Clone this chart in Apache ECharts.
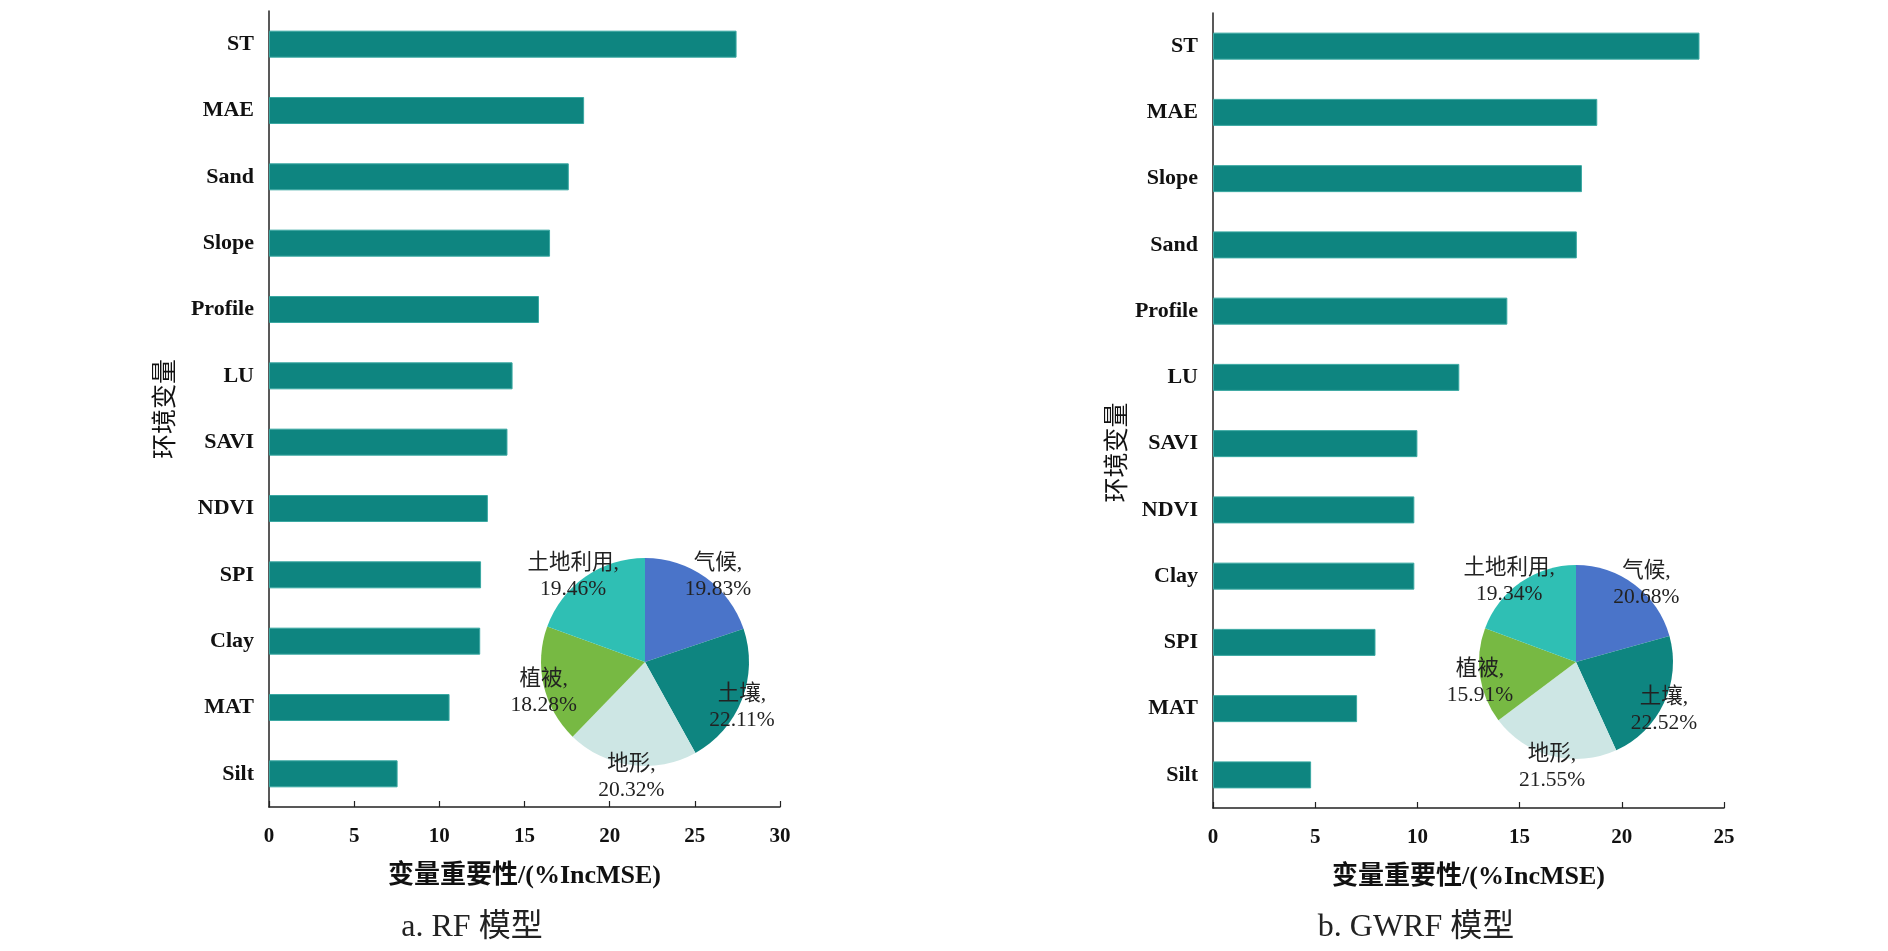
<!DOCTYPE html>
<html style="height: 100%">
<head>
    <meta charset="utf-8">
    <title>变量重要性</title>
    <script src="https://cdn.jsdelivr.net/npm/echarts@6/dist/echarts.min.js"></script>
</head>
<body style="height: 100%; margin: 0; background: #fff">
<div id="container" style="width: 1888px; height: 951px"></div>
<script type="text/javascript">
    // RF model
    const rfVars = ['ST', 'MAE', 'Sand', 'Slope', 'Profile', 'LU', 'SAVI', 'NDVI', 'SPI', 'Clay', 'MAT', 'Silt'];
    const rfValues = [27.45, 18.5, 17.6, 16.5, 15.85, 14.3, 14.0, 12.85, 12.45, 12.4, 10.6, 7.55];
    // GWRF model
    const gwrfVars = ['ST', 'MAE', 'Slope', 'Sand', 'Profile', 'LU', 'SAVI', 'NDVI', 'Clay', 'SPI', 'MAT', 'Silt'];
    const gwrfValues = [23.8, 18.8, 18.05, 17.8, 14.4, 12.05, 10.0, 9.85, 9.85, 7.95, 7.05, 4.8];

    // factor groups (pie)
    const groupNames = ['气候', '土壤', '地形', '植被', '土地利用'];
    const groupColors = ['#4a74c9', '#0e8580', '#cde6e4', '#77b943', '#2fbfb4'];
    const rfShares = [19.83, 22.11, 20.32, 18.28, 19.46];
    const gwrfShares = [20.68, 22.52, 21.55, 15.91, 19.34];

    const serif = "'Liberation Serif', 'Times New Roman', 'Noto Sans CJK SC', serif";
    const barColor = '#0e8580';

    let dom = document.getElementById('container');
    let chart = echarts.init(dom);

    function pieData(shares) {
        return shares.map(function (v, i) {
            return {name: groupNames[i], value: v, itemStyle: {color: groupColors[i]}};
        });
    }

    // put each label on the slice edge, along its bisector (upper ones pushed out a bit)
    function pieLabels(shares, cx, cy, r) {
        let total = shares.reduce(function (a, b) { return a + b; }, 0);
        return function (params) {
            let cum = 0;
            for (let i = 0; i < params.dataIndex; i++) cum += shares[i];
            let mid = (cum + shares[params.dataIndex] / 2) / total * Math.PI * 2;
            let s = Math.sin(mid), c = Math.cos(mid);
            return {
                x: cx + r * s * (1 + 0.25 * Math.max(0, c)),
                y: cy - r * c * 1.07 + 5,
                align: 'center',
                verticalAlign: 'middle'
            };
        };
    }

    function xAxisOf(gridIndex, max) {
        return {
            type: 'value', gridIndex: gridIndex, min: 0, max: max, interval: 5,
            name: '变量重要性/(%IncMSE)', nameLocation: 'middle', nameGap: 56,
            nameTextStyle: {fontFamily: serif, fontWeight: 'bold', fontSize: 26, color: '#111'},
            axisLine: {show: true, lineStyle: {color: '#222', width: 1.5}},
            axisTick: {show: true, inside: true, length: 6, lineStyle: {color: '#222', width: 1.2}},
            splitLine: {show: false},
            axisLabel: {fontFamily: serif, fontWeight: 'bold', fontSize: 21, color: '#111', margin: 19}
        };
    }

    function yAxisOf(gridIndex, cats, gap, pad) {
        return {
            type: 'category', gridIndex: gridIndex, data: cats, inverse: true,
            name: '环境变量', nameLocation: 'middle', nameGap: gap,
            nameTextStyle: {fontFamily: serif, fontSize: 25, color: '#111', padding: pad},
            axisLine: {show: true, lineStyle: {color: '#222', width: 1.5}},
            axisTick: {show: true, inside: true, alignWithLabel: true, length: 6, lineStyle: {color: '#222', width: 1.2}},
            axisLabel: {fontFamily: serif, fontWeight: 'bold', fontSize: 22, color: '#111', margin: 15}
        };
    }

    function pieSeries(shares, cx, cy, r) {
        return {
            type: 'pie', center: [cx, cy], radius: r, startAngle: 90, clockwise: true,
            data: pieData(shares), z: 5, animation: false,
            label: {
                show: true, position: 'inside',
                formatter: function (p) { return p.name + ',\n' + p.value.toFixed(2) + '%'; },
                fontFamily: serif, fontSize: 21.5, lineHeight: 26, color: '#222'
            },
            labelLine: {show: false},
            labelLayout: pieLabels(shares, cx, cy, r),
            itemStyle: {borderWidth: 0},
            emphasis: {disabled: true}
        };
    }

    chart.setOption({
        backgroundColor: '#fff',
        animation: false,
        title: [
            {text: 'a. RF 模型', left: 472, top: 912, textAlign: 'center', padding: 0,
                textStyle: {fontFamily: serif, fontWeight: 'normal', fontSize: 32, color: '#222'}},
            {text: 'b. GWRF 模型', left: 1416, top: 912, textAlign: 'center', padding: 0,
                textStyle: {fontFamily: serif, fontWeight: 'normal', fontSize: 32, color: '#222'}}
        ],
        grid: [
            {left: 269, top: 11, width: 511, height: 796},
            {left: 1213, top: 13, width: 511, height: 795}
        ],
        xAxis: [xAxisOf(0, 30), xAxisOf(1, 25)],
        yAxis: [yAxisOf(0, rfVars, 90, [0, 0, 0, 0]), yAxisOf(1, gwrfVars, 82, [0, 84, 0, 0])],
        series: [
            {
                type: 'bar', xAxisIndex: 0, yAxisIndex: 0, data: rfValues, barWidth: 27,
                itemStyle: {color: barColor, borderColor: '#3aa8a2', borderWidth: 1}
            },
            {
                type: 'bar', xAxisIndex: 1, yAxisIndex: 1, data: gwrfValues, barWidth: 27,
                itemStyle: {color: barColor, borderColor: '#3aa8a2', borderWidth: 1}
            },
            pieSeries(rfShares, 645, 662, 104),
            pieSeries(gwrfShares, 1576, 662, 97)
        ]
    });
</script>
</body>
</html>
